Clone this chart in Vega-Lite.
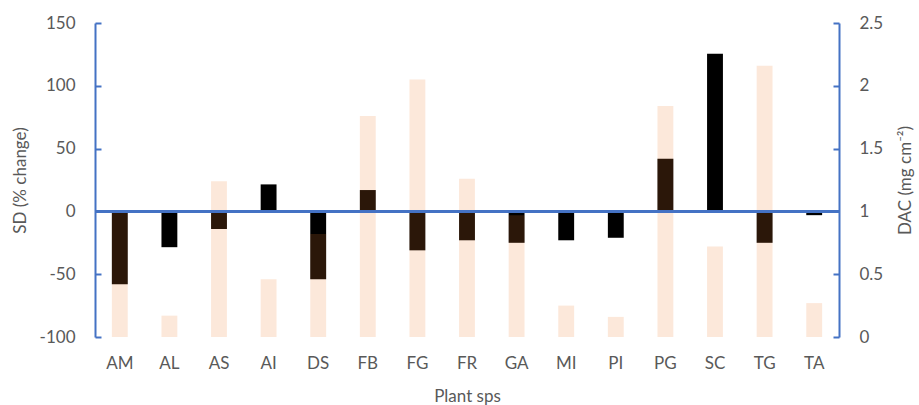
{
  "$schema": "https://vega.github.io/schema/vega-lite/v6.json",
  "width": 744,
  "height": 314,
  "autosize": {"type": "none"},
  "padding": {"left": 95, "top": 23, "right": 80, "bottom": 68},
  "config": {
    "view": {"stroke": null},
    "font": "Lato",
    "axis": {
      "labelFont": "Lato",
      "titleFont": "Lato",
      "labelColor": "#595959",
      "titleColor": "#595959",
      "labelFontSize": 17,
      "titleFontSize": 17,
      "titleFontWeight": "normal",
      "grid": false
    }
  },
  "data": {
    "values": [
      {"sp": "AM", "SD": -58, "DAC": 0.99},
      {"sp": "AL", "SD": -28.5, "DAC": 0.17},
      {"sp": "AS", "SD": -14, "DAC": 1.24},
      {"sp": "AI", "SD": 21.5, "DAC": 0.46},
      {"sp": "DS", "SD": -54, "DAC": 0.82},
      {"sp": "FB", "SD": 17, "DAC": 1.76},
      {"sp": "FG", "SD": -31, "DAC": 2.05},
      {"sp": "FR", "SD": -23, "DAC": 1.26},
      {"sp": "GA", "SD": -25, "DAC": 0.97},
      {"sp": "MI", "SD": -23, "DAC": 0.25},
      {"sp": "PI", "SD": -21, "DAC": 0.16},
      {"sp": "PG", "SD": 42, "DAC": 1.84},
      {"sp": "SC", "SD": 125.5, "DAC": 0.72},
      {"sp": "TG", "SD": -25, "DAC": 2.16},
      {"sp": "TA", "SD": -3, "DAC": 0.27}
    ]
  },
  "encoding": {
    "x": {
      "field": "sp",
      "type": "nominal",
      "sort": null,
      "scale": {"paddingInner": 0.68, "paddingOuter": 0.34},
      "axis": {
        "title": "Plant sps",
        "labelAngle": 0,
        "domain": false,
        "ticks": false,
        "labelPadding": 18,
        "titlePadding": 17
      }
    }
  },
  "layer": [
    {
      "mark": {"type": "bar", "color": "#000000"},
      "encoding": {
        "y": {
          "field": "SD",
          "type": "quantitative",
          "scale": {"domain": [-100, 150], "nice": false},
          "axis": {
            "title": "SD (% change)",
            "orient": "left",
            "values": [-100, -50, 0, 50, 100, 150],
            "labelExpr": "replace(datum.label, '−', '-')",
            "domainColor": "#4472C4",
            "domainWidth": 2,
            "tickColor": "#4472C4",
            "tickWidth": 2,
            "tickSize": -6,
            "labelPadding": 26,
            "titlePadding": 10
          }
        }
      }
    },
    {
      "layer": [
        {
          "mark": {"type": "bar", "color": "#ED7D31", "opacity": 0.18},
          "encoding": {
            "y": {
              "field": "DAC",
              "type": "quantitative",
              "scale": {"domain": [0, 2.5], "nice": false},
              "axis": {
                "title": "DAC (mg cm⁻²)",
                "orient": "right",
                "values": [0, 0.5, 1, 1.5, 2, 2.5],
                "format": "~g",
                "domainColor": "#4472C4",
                "domainWidth": 2,
                "tickColor": "#4472C4",
                "tickWidth": 2,
                "tickSize": -6,
                "labelPadding": 26,
                "titlePadding": 32,
                "titleAngle": -90
              }
            }
          }
        },
        {
          "mark": {"type": "rule", "color": "#4472C4", "strokeWidth": 2},
          "encoding": {
            "x": null,
            "y": {"datum": 1, "type": "quantitative"}
          }
        }
      ]
    }
  ],
  "resolve": {"scale": {"y": "independent"}}
}
